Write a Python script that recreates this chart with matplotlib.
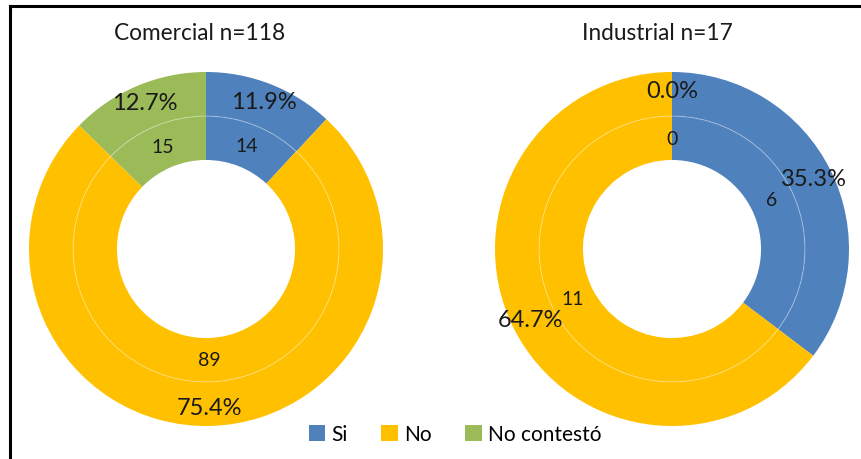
import numpy as np
import matplotlib
matplotlib.use("Agg")
import matplotlib.pyplot as plt
from matplotlib.lines import Line2D
from matplotlib.patches import Patch, Circle

plt.rcParams['font.family'] = ['Lato', 'DejaVu Sans']

categories = ["Si", "No", "No contestó"]
colors = ["#4F81BD", "#FFC000", "#9BBB59"]

titles = ["Comercial n=118", "Industrial n=17"]
counts = [[14, 89, 15], [6, 11, 0]]
percents = [[11.9, 75.4, 12.7], [35.3, 64.7, 0.0]]

fig = plt.figure(figsize=(8.61, 4.60), dpi=100)

# frame only shows on top and left in the original
fig.add_artist(Line2D([10 / 861, 10 / 861], [0, 1 - 7 / 460], color="black", lw=2.2,
                      transform=fig.transFigure))
fig.add_artist(Line2D([10 / 861, 1], [1 - 7 / 460, 1 - 7 / 460], color="black", lw=2.2,
                      transform=fig.transFigure))

R_OUT, R_MID, R_IN = 1.0, 0.751, 0.503
centers_x = [206, 672]
title_x = [200, 657]

for i in range(2):
    cx = centers_x[i]
    ax = fig.add_axes([(cx - 177) / 861, (210 - 177) / 460, 354 / 861, 354 / 460])

    ax.pie(percents[i], radius=R_OUT, colors=colors, startangle=90, counterclock=False,
           wedgeprops=dict(width=R_OUT - R_MID, edgecolor="none"))
    ax.pie(counts[i], radius=R_MID, colors=colors, startangle=90, counterclock=False,
           wedgeprops=dict(width=R_MID - R_IN, edgecolor="none"))
    # faint seam between the two rings
    ax.add_patch(Circle((0, 0), R_MID, fill=False, edgecolor=(1, 1, 1, 0.3), lw=0.8))
    ax.set_xlim(-1, 1)
    ax.set_ylim(-1, 1)
    ax.set_aspect("equal")
    ax.axis("off")

    # labels at the middle of each wedge
    tot_p = sum(percents[i])
    tot_c = sum(counts[i])
    acc_p = 0
    acc_c = 0
    for j in range(3):
        mid = (acc_p + percents[i][j] / 2) / tot_p * 2 * np.pi
        acc_p += percents[i][j]
        r = (R_OUT + R_MID) / 2 + 0.02
        ax.text(r * np.sin(mid), r * np.cos(mid), "%.1f%%" % percents[i][j],
                ha="center", va="center", fontsize=17, color="#1a1a1a")
        midc = (acc_c + counts[i][j] / 2) / tot_c * 2 * np.pi
        acc_c += counts[i][j]
        r = (R_MID + R_IN) / 2
        ax.text(r * np.sin(midc), r * np.cos(midc), str(counts[i][j]),
                ha="center", va="center", fontsize=14, color="#1a1a1a")

    fig.text(title_x[i] / 861, 1 - 33 / 460, titles[i], ha="center", va="center",
             fontsize=16.3, color="#1a1a1a")

handles = [Patch(facecolor=c, edgecolor="none") for c in colors]
fig.legend(handles, categories, loc="center", bbox_to_anchor=(455 / 861, 1 - 435 / 460),
           ncol=3, frameon=False, fontsize=15, handlelength=0.8, handleheight=0.8,
           handletextpad=0.3, columnspacing=1.6)

fig.savefig("out.png", dpi=100)
